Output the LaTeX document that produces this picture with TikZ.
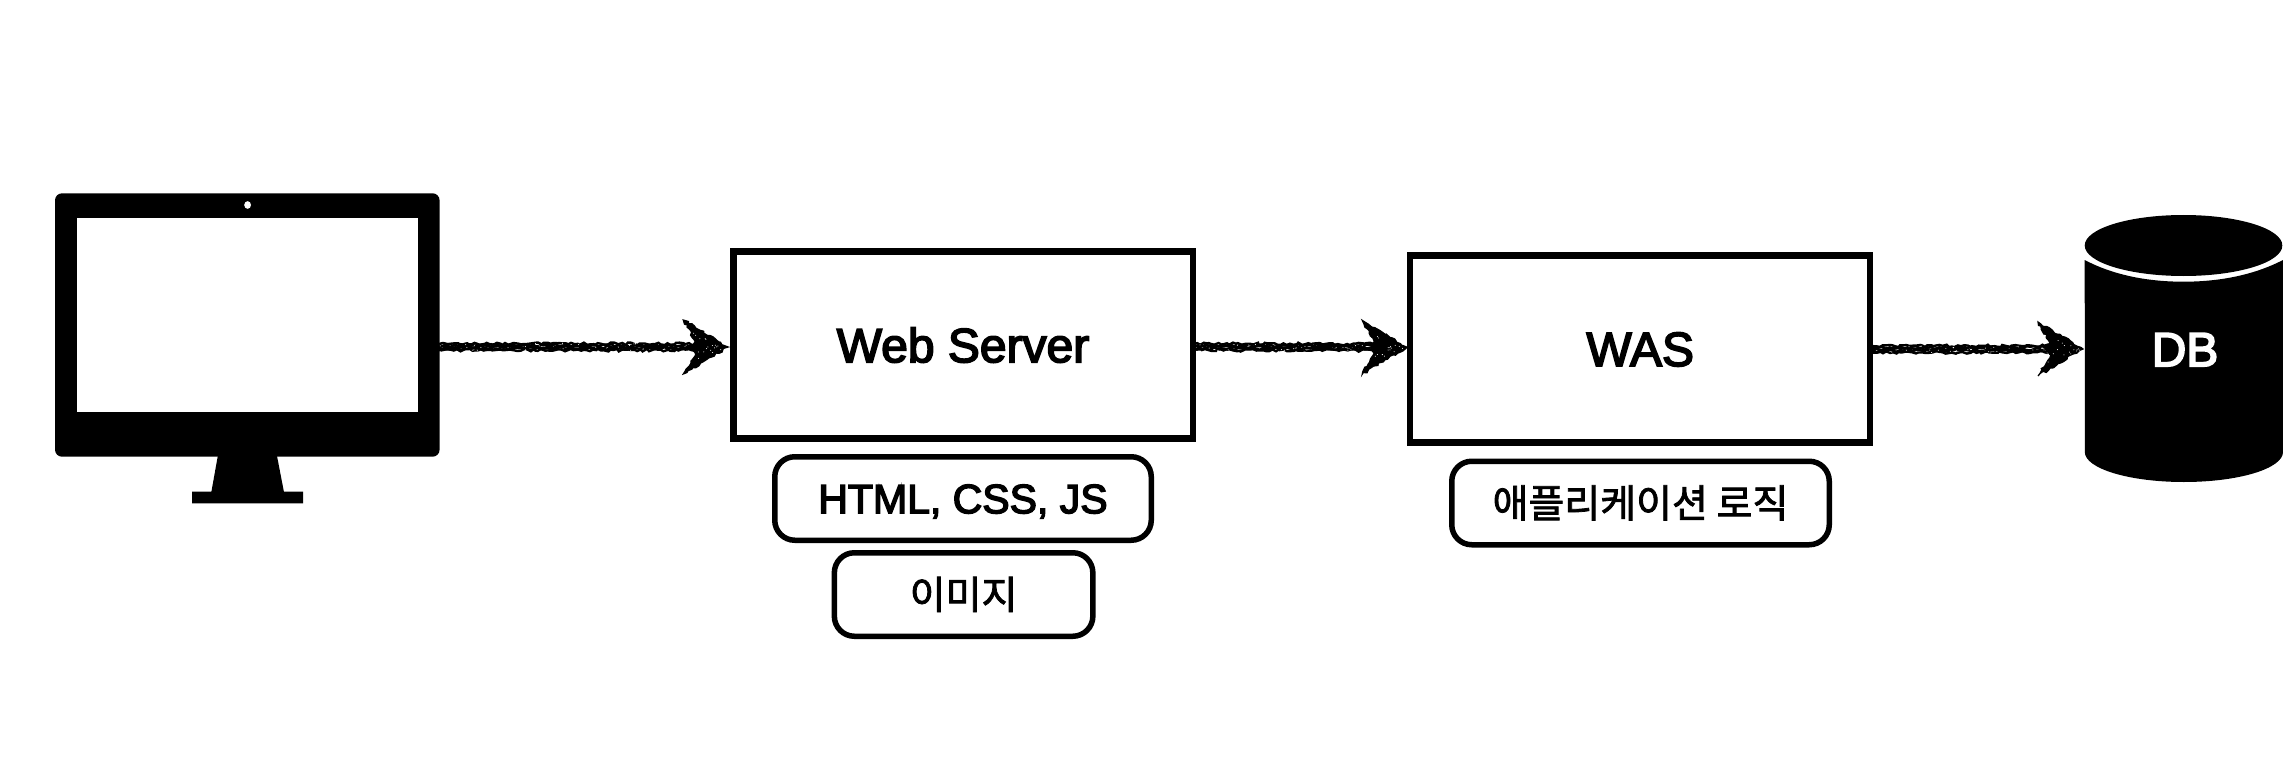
\documentclass[tikz,border=0pt]{standalone}
\usepackage{fontspec}
\setmainfont{Liberation Sans}[FakeBold=3.5]
\newfontfamily\krfont{Noto Sans CJK KR}[FakeBold=2]
\usetikzlibrary{calc,decorations.pathmorphing}
\pgfmathsetseed{4242}
\tikzset{
  box/.style={draw=black,line width=6.5pt,fill=white,inner sep=0pt,outer sep=0pt,minimum width=#1,minimum height=187pt},
  tag/.style={draw=black,line width=5.5pt,fill=white,rounded corners=20pt,inner sep=0pt,outer sep=0pt,minimum width=#1,minimum height=83.5pt},
  bigtext/.style={font=\fontsize{48}{48}\selectfont,text height=34.4pt,text depth=0pt},
  tagtext/.style={font=\fontsize{41}{41}\selectfont,text height=29.4pt,text depth=0pt},
  krtext/.style={font=\krfont\fontsize{39}{39}\selectfont,text height=29pt,text depth=0pt},
  chalk/.style={line width=2.4pt,line cap=round,decorate,decoration={random steps,segment length=3pt,amplitude=1.3pt}},
  chalkhead/.style={fill=black,draw=black,line width=1.2pt,decorate,decoration={random steps,segment length=3pt,amplitude=1.4pt}},
  speck/.style={fill=white,draw=none}
}
\newcommand{\chalkarrow}[2]{%
  \foreach \off in {-3.2,-1.6,0,1.6,3.2}{%
    \draw[chalk] ($(#1)+(0,\off)$) -- ($(#2)+(-24,\off)$);
  }
  \foreach \i in {1,...,24}{%
    \pgfmathsetmacro{\fr}{0.5+0.5*rand}%
    \pgfmathsetmacro{\dy}{4*rand}%
    \fill[speck] ($(#1)!\fr!(#2)+(0,\dy)$) circle[radius=.5pt];
  }
  \begin{scope}[shift={(#2)}]
    \filldraw[chalkhead] (0,0) -- (-45,-27) -- (-33,-6) -- (-36,0) -- (-33,6) -- (-45,27) -- cycle;
    \foreach \i in {1,...,18}{%
      \pgfmathsetmacro{\px}{-20+17*rand}%
      \pgfmathsetmacro{\py}{-\px*0.4*rand}%
      \fill[speck] (\px,\py) circle[radius=.5pt];
    }
  \end{scope}
}
\begin{document}
\begin{tikzpicture}[x=1pt,y=-1pt]
  \useasboundingbox (0,0) rectangle (2283,778);
  \clip (0,0) rectangle (2283,778);

  % monitor
  \node[fill=black,draw=none,rounded corners=7pt,inner sep=0pt,outer sep=0pt,minimum width=384.6pt,minimum height=263.4pt] (mon) at (247.3,325) {};
  \node[fill=white,draw=none,inner sep=0pt,minimum width=340.7pt,minimum height=194pt] (screen) at (247.6,315.3) {};
  \fill[white] (247.6,205) ellipse[x radius=3.4pt,y radius=3.8pt];
  \fill[black] (217.8,456) -- (277,456) -- (283.9,491.7) -- (303,491.7) -- (303,503.3) -- (192,503.3) -- (192,491.7) -- (211.4,491.7) -- cycle;

  % boxes
  \node[box=459.5pt,bigtext] (web) at (963,345) {Web Server};
  \node[box=460pt,bigtext] (was) at (1640.2,348.8) {WAS};
  \node[tag=376.5pt,tagtext] (front) at (963,498.5) {HTML, CSS, JS};
  \node[tag=258.5pt,krtext] (img) at (963.6,594.5) {이미지};
  \node[tag=377.5pt,krtext] (app) at (1640.5,503) {애플리케이션 로직};

  % database
  \fill[black] (2084.7,260) .. controls (2115,276) and (2150,281.7) .. (2183.5,281.7) .. controls (2217,281.7) and (2252,276) .. (2283,260) -- (2283,452) arc[start angle=0,end angle=-180,x radius=99.1pt,y radius=30pt] -- cycle;
  \fill[black] (2183.5,245.5) ellipse[x radius=98.8pt,y radius=30.5pt];
  \node[bigtext,text=white,inner sep=0pt] (db) at (2185,349) {DB};
  \coordinate (dbin) at (2083,349);

  % connectors
  \coordinate (s1) at ($(mon.east)+(0,22)$);
  \coordinate (e1) at ($(web.west)+(-5,2)$);
  \coordinate (s2) at ($(web.east)+(1,2)$);
  \coordinate (e2) at ($(was.west)+(-3,-1.5)$);
  \coordinate (s3) at ($(was.east)+(1,0.5)$);
  \chalkarrow{s1}{e1}
  \chalkarrow{s2}{e2}
  \chalkarrow{s3}{dbin}
\end{tikzpicture}
\end{document}
